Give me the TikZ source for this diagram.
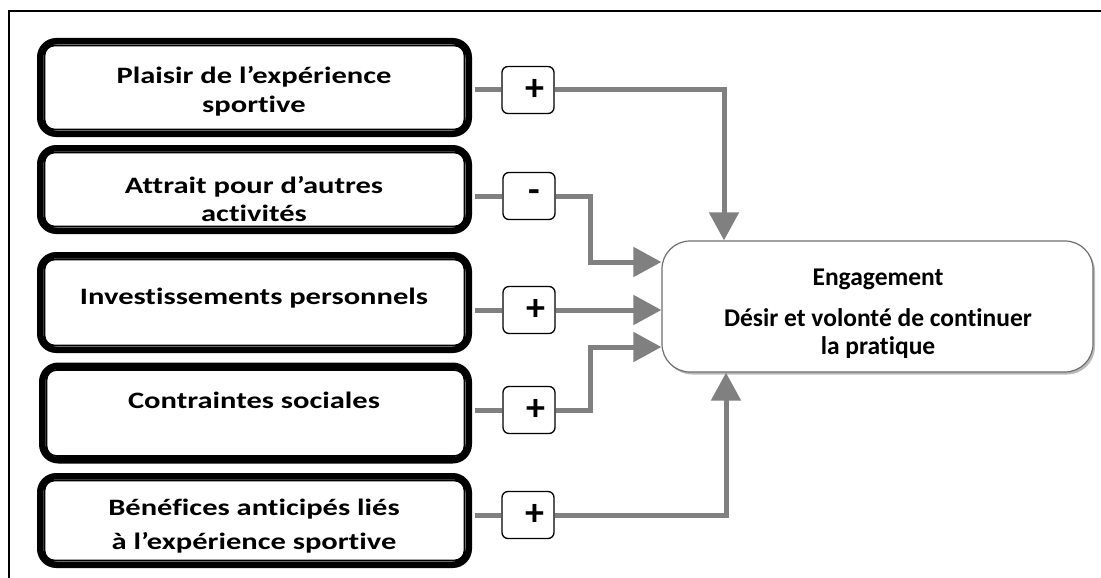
\documentclass[tikz,border=0pt]{standalone}
\usepackage{fontspec}
\usepackage{graphicx}
\setmainfont{Carlito}[Ligatures=NoCommon]
\usetikzlibrary{arrows.meta,shadows}
\definecolor{linkgray}{RGB}{128,128,128}
\definecolor{framegray}{RGB}{110,110,110}
% factor labels are set wide
\newcommand{\widetext}[1]{\scalebox{1.3}[1]{#1}}

\begin{document}
\begin{tikzpicture}[x=1pt,y=-1pt,
  factor/.style={draw, line width=6.5pt, rounded corners=16pt, minimum width=428.5pt, inner sep=0pt},
  innerline/.style={draw, line width=1.8pt, rounded corners=10pt},
  lbl/.style={anchor=base, font=\fontsize{23.5}{28}\selectfont\bfseries, inner sep=0pt},
  sign/.style={draw, line width=1.3pt, rounded corners=6pt, fill=white, minimum width=52pt, minimum height=47pt, inner sep=0pt, font=\fontsize{38}{38}\selectfont\bfseries},
  link/.style={draw=linkgray, line width=5pt},
  arrowlink/.style={link, -{Triangle[length=28pt,width=29pt]}},
  target/.style={draw=framegray, line width=1.2pt, rounded corners=28pt, fill=white, minimum width=431pt, minimum height=131pt, inner sep=0pt,
    drop shadow={shadow xshift=2pt, shadow yshift=-2.5pt, fill=black!45, opacity=0.6}},
  engtext/.style={anchor=base, font=\fontsize{25.5}{30}\selectfont\bfseries, inner sep=0pt}
]
\useasboundingbox (0,0) rectangle (1101,578);

% page frame
\draw[line width=1.2pt] (9,578) -- (9,11) -- (1101,11);

% outcome box
\node[target] (eng) at (877.5,306.5) {};
\node[engtext] (e1) at (878,285) {Engagement};
\node[engtext] (e2) at (878,326) {Désir et volonté de continuer};
\node[engtext] (e3) at (878,354) {la pratique};

% factor boxes: thick outer border with a thin inner line
\node[factor, minimum height=92.5pt] (b1) at (254.5,87.5) {};
\node[factor, minimum height=82.5pt] (b2) at (254.5,189.5) {};
\node[factor, minimum height=94.5pt] (b3) at (254.5,302.5) {};
\node[factor, minimum height=94.5pt, minimum width=426.5pt] (b4) at (255.5,413) {};
\node[factor, minimum height=88.5pt] (b5) at (254.5,520.5) {};
\foreach \bx in {b1,b2,b3,b4,b5}{
  \draw[innerline] ([shift={(7.5pt,-7.5pt)}]\bx.north west) rectangle ([shift={(-7.5pt,7.5pt)}]\bx.south east);
}

% sign boxes
\node[sign] (s1) at (528,90) {\hspace*{14pt}+};
\node[sign] (s2) at (529,196) {\hspace*{10pt}\raisebox{-9pt}{-}};
\node[sign] (s3) at (529,310) {\hspace*{14pt}+};
\node[sign] (s4) at (529,410) {\hspace*{14pt}+};
\node[sign] (s5) at (528,515) {\hspace*{14pt}+};

% links from the factors to their signs
\draw[link] ([xshift=3pt]b1.east |- s1.west) -- (s1.west);
\draw[link] ([xshift=3pt]b2.east |- s2.west) -- (s2.west);
\draw[link] ([xshift=3pt]b3.east |- s3.west) -- (s3.west);
\draw[link] ([xshift=3pt]b4.east |- s4.west) -- (s4.west);
\draw[link] ([xshift=3pt]b5.east |- s5.west) -- (s5.west);

% links from the signs to the outcome
\draw[arrowlink] (s1.east) -| ([xshift=-153.5pt]eng.north);
\draw[arrowlink] (s2.east) -- ++(35,0) |- ([yshift=44.5pt]eng.west);
\draw[arrowlink] (s3.east) -- (s3.east -| eng.west);
\draw[arrowlink] (s4.east) -- ++(35,0) |- ([yshift=-40.5pt]eng.west);
\draw[arrowlink] (s5.east) -| ([xshift=-151.5pt]eng.south);

% factor labels
\node[lbl] (t1a) at (254,84) {\widetext{Plaisir de l’expérience}};
\node[lbl] (t1b) at (254,112) {\widetext{sportive}};
\node[lbl] (t2a) at (254,193) {\widetext{Attrait pour d’autres}};
\node[lbl] (t2b) at (254,221) {\widetext{activités}};
\node[lbl] (t3) at (254,304) {\widetext{Investissements personnels}};
\node[lbl] (t4) at (254,408) {\widetext{Contraintes sociales}};
\node[lbl] (t5a) at (254,515) {\widetext{Bénéfices anticipés liés}};
\node[lbl] (t5b) at (254,549) {\widetext{à l’expérience sportive}};
\end{tikzpicture}
\end{document}
